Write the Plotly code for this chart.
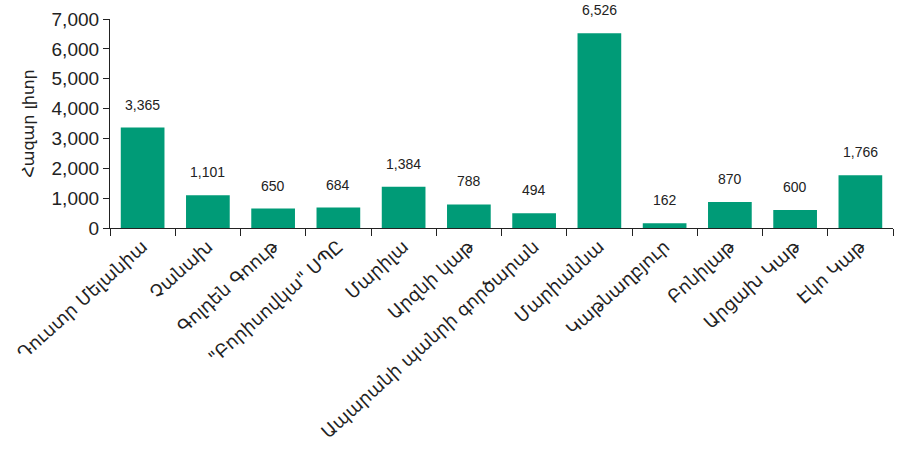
import plotly.graph_objects as go

categories = [
    "Դուստր Մելանիա", "Չանախ", "Գոլդեն Գոութ", "\"Բորիսովկա\" ՍՊԸ", "Մարիլա",
    "Արզնի կաթ", "Ապարանի պանրի գործարան", "Մարիաննա", "Կաթնաղբյուր",
    "Բոնիլաթ", "Արցախ Կաթ", "Էկո Կաթ",
]
values = [3365, 1101, 650, 684, 1384, 788, 494, 6526, 162, 870, 600, 1766]
y_ticks = [0, 1000, 2000, 3000, 4000, 5000, 6000, 7000]
y_title = "Հազար լիտր"

bar_color = "#009B77"
num_font = "Liberation Sans Narrow, Arial Narrow, Liberation Sans"

fig = go.Figure(go.Bar(x=categories, y=values, marker=dict(color=bar_color, line=dict(width=0)),
                       width=0.67))

for c, v in zip(categories, values):
    fig.add_annotation(x=c, y=v, text=f"{v:,}", showarrow=False, yshift=23,
                       font=dict(family=num_font, size=14, color="#222"))

fig.update_layout(
    width=901, height=451,
    margin=dict(l=110, r=8, t=19, b=223),
    plot_bgcolor="white", paper_bgcolor="white",
    showlegend=False,
    xaxis=dict(
        automargin=False,
        tickangle=-42, ticks="outside", tickson="boundaries", ticklen=7,
        tickcolor="#222", showline=True, linecolor="#222", linewidth=1.2,
        tickfont=dict(family="DejaVu Sans", size=18, color="#222"),
        showgrid=False,
    ),
    yaxis=dict(
        automargin=False,
        range=[0, 7000], tickvals=y_ticks, tickformat=",", ticks="outside", ticklen=6,
        tickcolor="#222", showline=True, linecolor="#222", linewidth=1.2,
        showgrid=False, zeroline=False,
        tickfont=dict(family=num_font, size=19, color="#222"),
        title=dict(text=y_title, font=dict(family="DejaVu Sans", size=16, color="#222"), standoff=12),
    ),
)

fig.write_html("out.html", config={"displayModeBar": False},
               post_script="document.body.style.margin='0';")
